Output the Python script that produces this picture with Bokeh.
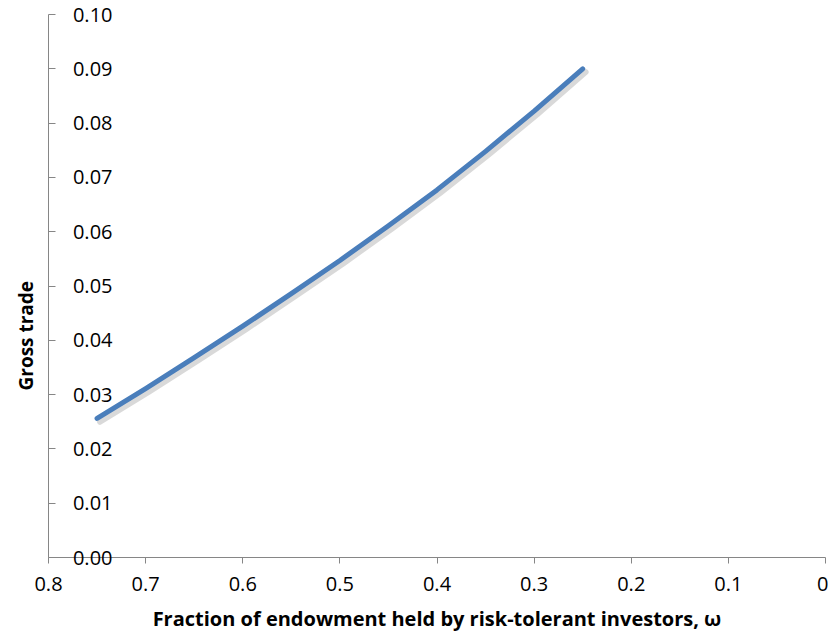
from bokeh.plotting import figure
from bokeh.models import Range1d, FixedTicker, CustomJSTickFormatter, Title
from bokeh.embed import file_html
from bokeh.resources import INLINE

# Data
omega = [0.75, 0.70, 0.65, 0.60, 0.55, 0.50, 0.45, 0.40, 0.35, 0.30, 0.25]
gross_trade = [0.0256, 0.0311, 0.0368, 0.0426, 0.0486, 0.0547, 0.0611, 0.0677, 0.0748, 0.0822, 0.0900]

x_ticks = [0.8, 0.7, 0.6, 0.5, 0.4, 0.3, 0.2, 0.1, 0.0]
y_ticks = [0.00, 0.01, 0.02, 0.03, 0.04, 0.05, 0.06, 0.07, 0.08, 0.09, 0.10]

x_title = "Fraction of endowment held by risk-tolerant investors, \u03c9"
y_title = "Gross trade"

FONT = "Open Sans"
AXIS_GREY = "#868686"

p = figure(width=828, height=634, output_backend="svg", toolbar_location=None,
           x_range=Range1d(0.8, 0.0), y_range=Range1d(0.0, 0.10),
           min_border_left=48, min_border_right=3, min_border_top=14, min_border_bottom=77)
p.outline_line_color = None
p.grid.grid_line_color = None
p.background_fill_color = "white"
p.border_fill_color = "white"

# soft shadow under the curve
sx = [v - 0.003 for v in omega]
sy = [v - 0.0006 for v in gross_trade]
p.line(sx, sy, line_width=6, line_color="black", line_alpha=0.15, line_cap="round")
p.line(omega, gross_trade, line_width=5, line_color="#4A7EBB", line_cap="round", line_join="round")

xa = p.xaxis[0]
xa.ticker = FixedTicker(ticks=x_ticks)
xa.formatter = CustomJSTickFormatter(code="return tick === 0 ? '0' : tick.toFixed(1);")
xa.axis_line_color = AXIS_GREY
xa.major_tick_line_color = AXIS_GREY
xa.major_tick_in = 0
xa.major_tick_out = 6
xa.minor_tick_line_color = None
xa.major_label_text_font = FONT
xa.major_label_text_font_size = "20px"
xa.major_label_text_color = "black"
xa.major_label_standoff = 13
xa.axis_label = x_title
xa.axis_label_text_font = FONT
xa.axis_label_text_font_size = "20px"
xa.axis_label_text_font_style = "bold"
xa.axis_label_text_color = "black"
xa.axis_label_standoff = 11

ya = p.yaxis[0]
ya.ticker = FixedTicker(ticks=y_ticks)
ya.formatter = CustomJSTickFormatter(code="return tick.toFixed(2);")
ya.axis_line_color = AXIS_GREY
ya.major_tick_line_color = AXIS_GREY
ya.major_tick_in = 7
ya.major_tick_out = 0
ya.minor_tick_line_color = None
ya.major_label_text_font = FONT
ya.major_label_text_font_size = "20px"
ya.major_label_text_color = "black"
ya.major_label_standoff = -64

# y-axis title as a side title, shifted up from the bottom of the frame
p.add_layout(Title(text=y_title, align="left", offset=167, standoff=20, text_font=FONT,
                   text_font_size="19px", text_font_style="bold",
                   text_color="black"), "left")

open("out.html", "w").write(file_html(p, INLINE))
